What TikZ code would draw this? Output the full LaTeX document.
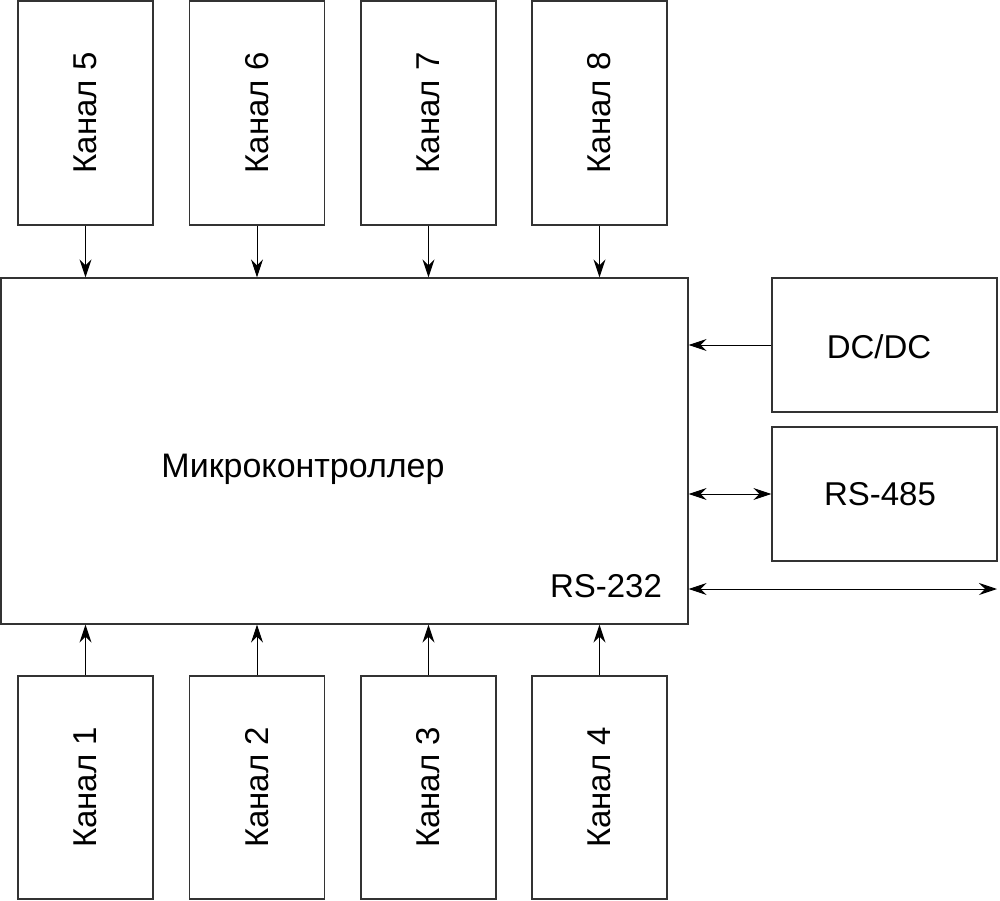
\documentclass[tikz,border=0pt]{standalone}
\usepackage{fontspec}
\setmainfont{Liberation Sans}
\usetikzlibrary{arrows.meta}
\begin{document}
\begin{tikzpicture}[x=1pt,y=-1pt,
  blk/.style={draw=black!80, line width=1.3pt, inner sep=0pt},
  chan/.style={blk, minimum width=135pt, minimum height=224pt},
  side/.style={blk, minimum width=225pt, minimum height=134pt},
  lbl/.style={font=\fontsize{33}{40}\selectfont, inner sep=0pt},
  con/.style={line width=1pt, -{Stealth[length=18pt,width=12pt,inset=6pt]}},
  bicon/.style={line width=1pt, {Stealth[length=18pt,width=12pt,inset=6pt]}-{Stealth[length=18pt,width=12pt,inset=6pt]}}]
\useasboundingbox (0,0) rectangle (1000,901);
% microcontroller
\node[blk, minimum width=687pt, minimum height=346pt] (mc) at (344.5,451) {};
\node[lbl, font=\fontsize{34}{40}\selectfont] (mct) at (303,469) {Микроконтроллер};
\node[lbl] (rs232t) at (606,586) {RS-232};
% top channels
\node[chan] (k5) at (85.5,113) {};
\node[chan] (k6) at (257,113) {};
\node[chan] (k7) at (428.5,113) {};
\node[chan] (k8) at (599.5,113) {};
\node[lbl, rotate=90] (k5t) at (k5) {Канал 5};
\node[lbl, rotate=90] (k6t) at (k6) {Канал 6};
\node[lbl, rotate=90] (k7t) at (k7) {Канал 7};
\node[lbl, rotate=90] (k8t) at (k8) {Канал 8};
% bottom channels
\node[chan, minimum height=223pt] (k1) at (85.5,787.5) {};
\node[chan, minimum height=223pt] (k2) at (257,787.5) {};
\node[chan, minimum height=223pt] (k3) at (428.5,787.5) {};
\node[chan, minimum height=223pt] (k4) at (599.5,787.5) {};
\node[lbl, rotate=90] (k1t) at (k1) {Канал 1};
\node[lbl, rotate=90] (k2t) at (k2) {Канал 2};
\node[lbl, rotate=90] (k3t) at (k3) {Канал 3};
\node[lbl, rotate=90] (k4t) at (k4) {Канал 4};
% side blocks
\node[side] (dc) at (884.5,345) {};
\node[lbl] (dct) at (879,347) {DC/DC};
\node[side] (rs485) at (884.5,494) {};
\node[lbl] (rs485t) at (880,494) {RS-485};
% connectors
\foreach \k in {k5,k6,k7,k8} {
  \draw[con] (\k.south) -- (\k.south |- mc.north);
}
\foreach \k in {k1,k2,k3,k4} {
  \draw[con] (\k.north) -- (\k.north |- mc.south);
}
\draw[con] (dc.west) -- (dc.west -| mc.east);
\draw[bicon] (rs485.west -| mc.east) -- (rs485.west);
\coordinate (rsend) at (997,589);
\draw[bicon] (rsend -| mc.east) -- (rsend);
\end{tikzpicture}
\end{document}
